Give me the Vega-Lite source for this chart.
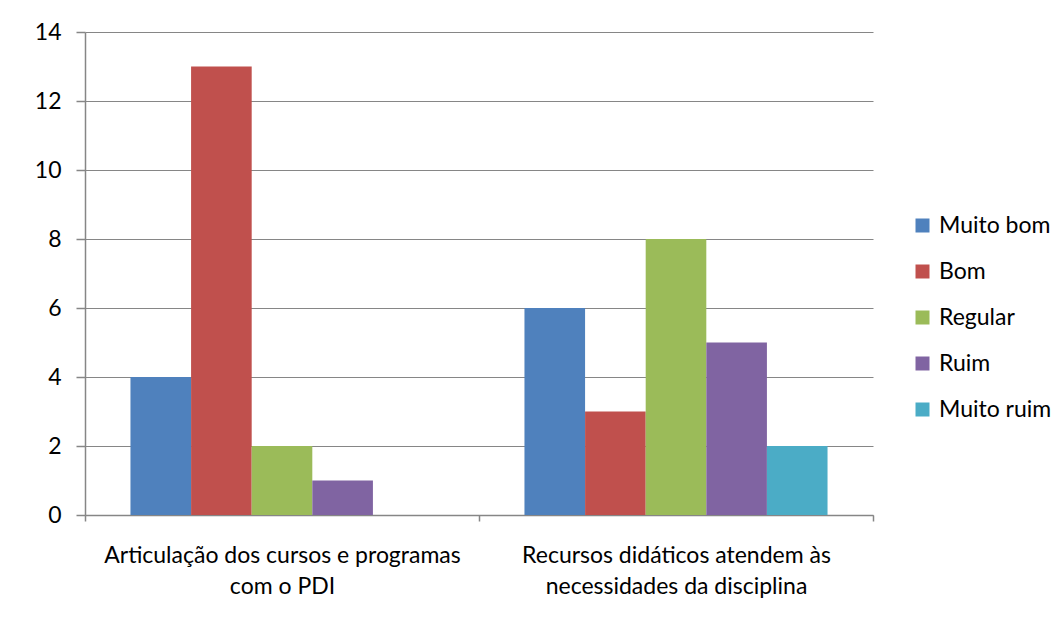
{
  "$schema": "https://vega.github.io/schema/vega-lite/v6.json",
  "width": 788,
  "height": 483,
  "autosize": "none",
  "padding": {"left": 85, "top": 32, "right": 190, "bottom": 108},
  "background": "white",
  "data": {
    "values": [
      {"item": "Articulação dos cursos e programas com o PDI", "avaliacao": "Muito bom", "n": 4},
      {"item": "Articulação dos cursos e programas com o PDI", "avaliacao": "Bom", "n": 13},
      {"item": "Articulação dos cursos e programas com o PDI", "avaliacao": "Regular", "n": 2},
      {"item": "Articulação dos cursos e programas com o PDI", "avaliacao": "Ruim", "n": 1},
      {"item": "Articulação dos cursos e programas com o PDI", "avaliacao": "Muito ruim", "n": 0},
      {"item": "Recursos didáticos atendem às necessidades da disciplina", "avaliacao": "Muito bom", "n": 6},
      {"item": "Recursos didáticos atendem às necessidades da disciplina", "avaliacao": "Bom", "n": 3},
      {"item": "Recursos didáticos atendem às necessidades da disciplina", "avaliacao": "Regular", "n": 8},
      {"item": "Recursos didáticos atendem às necessidades da disciplina", "avaliacao": "Ruim", "n": 5},
      {"item": "Recursos didáticos atendem às necessidades da disciplina", "avaliacao": "Muito ruim", "n": 2}
    ]
  },
  "mark": {"type": "bar"},
  "encoding": {
    "x": {
      "field": "item",
      "type": "nominal",
      "sort": null,
      "title": null,
      "scale": {"paddingInner": 0, "paddingOuter": 0},
      "axis": {
        "tickBand": "extent",
        "labelAngle": 0,
        "labelFontSize": 23,
        "labelFont": "Lato",
        "labelColor": "#000000",
        "labelLineHeight": 31,
        "labelPadding": 23,
        "labelLimit": 0,
        "tickSize": 6,
        "tickColor": "#868686",
        "domainColor": "#868686",
        "labelExpr": "datum.label == 'Articulação dos cursos e programas com o PDI' ? ['Articulação dos cursos e programas', 'com o PDI'] : datum.label == 'Recursos didáticos atendem às necessidades da disciplina' ? ['Recursos didáticos atendem às', 'necessidades da disciplina'] : ''"
      }
    },
    "xOffset": {
      "field": "avaliacao",
      "type": "nominal",
      "sort": ["Muito bom", "Bom", "Regular", "Ruim", "Muito ruim"],
      "scale": {"paddingInner": 0, "paddingOuter": 0.75}
    },
    "y": {
      "field": "n",
      "type": "quantitative",
      "title": null,
      "scale": {"domain": [0, 14], "nice": false},
      "axis": {
        "values": [0, 2, 4, 6, 8, 10, 12, 14],
        "labelFontSize": 23,
        "labelFont": "Lato",
        "labelColor": "#000000",
        "labelPadding": 15,
        "tickSize": 9,
        "tickColor": "#868686",
        "domainColor": "#868686",
        "gridColor": "#868686",
        "grid": true
      }
    },
    "color": {
      "field": "avaliacao",
      "type": "nominal",
      "sort": ["Muito bom", "Bom", "Regular", "Ruim", "Muito ruim"],
      "scale": {
        "domain": ["Muito bom", "Bom", "Regular", "Ruim", "Muito ruim"],
        "range": ["#4F81BD", "#C0504D", "#9BBB59", "#8064A2", "#4BACC6"]
      },
      "legend": {
        "title": null,
        "orient": "none",
        "legendX": 826,
        "legendY": 182,
        "symbolType": "square",
        "symbolSize": 196,
        "symbolStrokeWidth": 0,
        "labelFontSize": 23,
        "labelFont": "Lato",
        "labelColor": "#000000",
        "labelOffset": 5,
        "rowPadding": 22
      }
    }
  },
  "config": {
    "view": {"stroke": null},
    "axis": {"gridWidth": 1, "domainWidth": 1.5, "tickWidth": 1.5}
  }
}
